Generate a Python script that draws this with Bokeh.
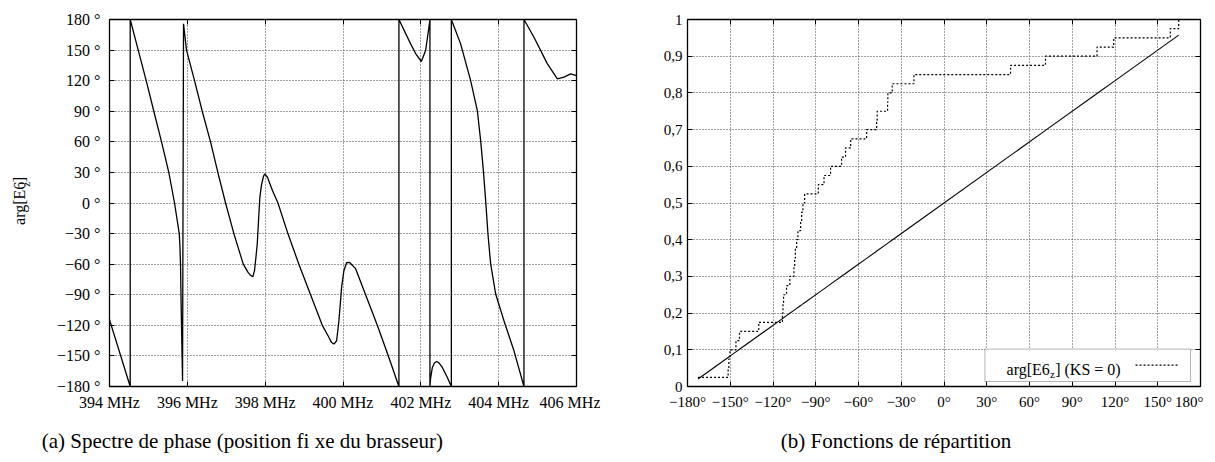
import numpy as np
from bokeh.plotting import figure
from bokeh.models import LinearAxis, FixedTicker, Label, BoxAnnotation, Range1d
from bokeh.layouts import row, column
from bokeh.embed import file_html
from bokeh.resources import INLINE

# ---------------- data: (a) phase spectrum ----------------
freq_mhz = [
    394.000, 394.532, 394.532,
    394.738, 394.943, 395.139, 395.337, 395.524, 395.671, 395.792, 395.807,
    395.825, 395.843, 395.870, 395.877, 395.902,
    395.979, 396.185, 396.383, 396.596, 396.784, 396.982, 397.196, 397.437,
    397.560, 397.625, 397.684, 397.728, 397.766, 397.797, 397.830, 397.864,
    397.907, 397.959, 397.992, 398.062, 398.190, 398.329, 398.584, 398.866,
    399.167, 399.468, 399.630, 399.700, 399.766, 399.836, 399.895, 399.964,
    400.023, 400.093, 400.170, 400.324, 400.581, 400.882, 401.165, 401.437,
    401.437,
    401.738, 401.866, 402.013, 402.123, 402.208, 402.234, 402.234,
    402.250, 402.296, 402.350, 402.406, 402.470, 402.553, 402.681, 402.784,
    402.784,
    403.023, 403.280, 403.452, 403.537, 403.607, 403.666, 403.725, 403.794,
    403.923, 404.136, 404.393, 404.650, 404.650,
    404.907, 405.252, 405.509, 405.679, 405.851, 406.000,
]
phase_deg = [
    -114.5, -180.0, 180.0,
    150.0, 120.0, 90.0, 60.0, 30.0, 0.0, -30.0, -40.0,
    -60.0, -105.0, -160.0, -174.5, 175.8,
    150.0, 120.0, 90.0, 60.0, 30.0, 0.0, -30.0, -60.0,
    -68.0, -71.0, -72.3, -66.0, -52.0, -40.0, -17.0, 5.6,
    18.0, 26.5, 28.5, 25.0, 12.0, 0.0, -30.0, -60.0,
    -90.0, -120.0, -131.2, -136.5, -138.4, -135.1, -115.5, -82.8,
    -66.4, -58.6, -58.3, -64.4, -90.0, -120.0, -150.0, -180.0,
    180.0,
    156.1, 146.6, 138.8, 149.6, 172.4, 180.0, -180.0,
    -172.0, -161.3, -157.0, -155.5, -157.0, -161.3, -171.2, -180.0,
    180.0,
    156.1, 120.1, 90.7, 61.2, 31.8, 2.3, -30.4, -59.8,
    -89.3, -115.5, -145.0, -180.0, 180.0,
    162.6, 136.5, 121.8, 123.4, 126.7, 125.0,
]
freq_ticks = [394, 396, 398, 400, 402, 404, 406]
freq_tick_labels = ["394 MHz", "396 MHz", "398 MHz", "400 MHz", "402 MHz", "404 MHz", "406 MHz"]
phase_ticks = [-180, -150, -120, -90, -60, -30, 0, 30, 60, 90, 120, 150, 180]
phase_tick_labels = ["\u2212180 \u00b0", "\u2212150 \u00b0", "\u2212120 \u00b0", "\u221290 \u00b0",
                     "\u221260 \u00b0", "\u221230 \u00b0", "0 \u00b0", "30 \u00b0", "60 \u00b0",
                     "90 \u00b0", "120 \u00b0", "150 \u00b0", "180 \u00b0"]
ylabel_main, ylabel_sub, ylabel_tail = "arg[E6", "z", "]"
caption_a = "(a)  Spectre de phase (position fi xe du brasseur)"

# ---------------- data: (b) distribution functions ----------------
ks_samples = [
    -172.6, -151.5, -151.0, -150.2, -146.0, -143.5, -130.0, -113.4, -113.0, -112.6,
    -110.5, -108.2, -105.3, -104.8, -104.3, -103.4, -102.5, -100.6, -99.9, -99.0,
    -97.8, -88.2, -84.2, -79.6, -71.9, -69.1, -65.5, -54.3, -47.3, -46.9,
    -39.6, -39.4, -36.3, -21.1, 46.7, 71.2, 107.4, 119.1, 158.8, 164.7,
]
cdf_ticks = [0, 0.1, 0.2, 0.3, 0.4, 0.5, 0.6, 0.7, 0.8, 0.9, 1]
cdf_tick_labels = ["0", "0,1", "0,2", "0,3", "0,4", "0,5", "0,6", "0,7", "0,8", "0,9", "1"]
angle_ticks = [-180, -150, -120, -90, -60, -30, 0, 30, 60, 90, 120, 150, 180]
angle_tick_labels = ["\u2212180\u00b0", "\u2212150\u00b0", "\u2212120\u00b0", "\u221290\u00b0",
                     "\u221260\u00b0", "\u221230\u00b0", "0\u00b0", "30\u00b0", "60\u00b0",
                     "90\u00b0", "120\u00b0", "150\u00b0", "180\u00b0"]
legend_main, legend_sub, legend_tail = "arg[E6", "z", "] (KS = 0)"
caption_b = "(b) Fonctions de r\u00e9partition"

FONT = "Liberation Serif"
TOP_H = 418      # plot row: screen y 0 .. 418
CAP_H = 40       # caption strip: screen y 418 .. 458


def style(p, xt, xl, yt, yl, fs, ystand, xstand):
    p.background_fill_color = "white"
    p.border_fill_color = "white"
    p.outline_line_color = "black"
    p.outline_line_width = 1.3
    for ax, ticks, labels, st in ((p.xaxis[0], xt, xl, xstand), (p.yaxis[0], yt, yl, ystand)):
        ax.ticker = FixedTicker(ticks=ticks)
        ax.major_label_overrides = {t: l for t, l in zip(ticks, labels)}
        ax.major_tick_in = 5
        ax.major_tick_out = 0
        ax.major_tick_line_color = "black"
        ax.minor_tick_line_color = None
        ax.axis_line_color = None
        ax.major_label_text_font = FONT
        ax.major_label_text_font_size = fs
        ax.major_label_text_color = "black"
        ax.major_label_standoff = st
    for loc, ticks in (("above", xt), ("right", yt)):
        ax = LinearAxis(ticker=FixedTicker(ticks=ticks), major_label_text_font_size="0px",
                        major_label_standoff=0, major_tick_in=5, major_tick_out=0,
                        minor_tick_line_color=None, axis_line_color=None,
                        major_tick_line_color="black")
        ax.major_label_overrides = {t: "" for t in ticks}
        p.add_layout(ax, loc)
    for g, ticks in ((p.xgrid[0], xt), (p.ygrid[0], yt)):
        g.ticker = FixedTicker(ticks=ticks)
        g.grid_line_color = "#444444"
        g.grid_line_dash = "1 2"
        g.grid_line_width = 1


def blank(width, height):
    """A bare canvas: data x = pixels from its left, data y = pixels from its bottom."""
    b = figure(width=width, height=height, x_range=Range1d(0, width), y_range=Range1d(0, height),
               output_backend="svg", toolbar_location=None, title=None,
               min_border_left=0, min_border_right=0, min_border_top=0, min_border_bottom=0)
    b.axis.visible = False
    b.grid.visible = False
    b.outline_line_color = None
    b.background_fill_color = "white"
    b.border_fill_color = "white"
    return b


# ---------------- y label strip (screen x 0..50, y 0..418) ----------------
pl = blank(50, TOP_H)
ang = np.pi / 2
y_start = 234.0
pl.add_layout(Label(x=18.5, y=TOP_H - y_start, text=ylabel_main, angle=ang, text_align="left",
                    text_baseline="middle", text_font=FONT, text_font_size="16px", text_color="black"))
pl.add_layout(Label(x=25.5, y=TOP_H - (y_start - 43.5), text=ylabel_sub, angle=ang, text_align="left",
                    text_baseline="middle", text_font=FONT, text_font_size="11px", text_color="black"))
pl.add_layout(Label(x=18.5, y=TOP_H - (y_start - 48.6), text=ylabel_tail, angle=ang, text_align="left",
                    text_baseline="middle", text_font=FONT, text_font_size="16px", text_color="black"))

# ---------------- figure (a) (screen x 50..600) ----------------
p1 = figure(width=550, height=TOP_H, x_range=Range1d(394, 406), y_range=Range1d(-180, 180),
            output_backend="svg", toolbar_location=None, title=None,
            min_border_left=59, min_border_right=24, min_border_top=19, min_border_bottom=32)
style(p1, freq_ticks, freq_tick_labels, phase_ticks, phase_tick_labels, "16px", 9, 7)
p1.line(freq_mhz, phase_deg, line_color="black", line_width=1.3)

# ---------------- figure (b) (screen x 600..1203) ----------------
L2, R2, T, B = 686.7, 1200.0, 19.0, 385.7
p2 = figure(width=603, height=TOP_H, x_range=Range1d(-180, 180), y_range=Range1d(0, 1),
            output_backend="svg", toolbar_location=None, title=None,
            min_border_left=87, min_border_right=3, min_border_top=19, min_border_bottom=32)
style(p2, angle_ticks, angle_tick_labels, cdf_ticks, cdf_tick_labels, "15px", 5, 7)

samples = np.sort(np.array(ks_samples))
levels = np.arange(1, len(samples) + 1) / len(samples)
uniform = (samples + 180.0) / 360.0
p2.line(samples, uniform, line_color="black", line_width=1.1)
p2.step(samples, levels, mode="after", line_color="black", line_width=1.2, line_dash="2 2")


def x2(px):
    return -180 + (px - L2) * 360.0 / (R2 - L2)


def y2(py):
    return (B - py) / (B - T)


p2.add_layout(BoxAnnotation(left=x2(984.3), right=x2(1190), bottom=y2(380.7), top=y2(348.3),
                            fill_color="white", fill_alpha=1, line_color="black", line_width=1))
p2.add_layout(Label(x=x2(1006), y=y2(369), text=legend_main, text_align="left", text_baseline="alphabetic",
                    text_font=FONT, text_font_size="16px", text_color="black"))
p2.add_layout(Label(x=x2(1049.5), y=y2(373.5), text=legend_sub, text_align="left", text_baseline="alphabetic",
                    text_font=FONT, text_font_size="11px", text_color="black"))
p2.add_layout(Label(x=x2(1054.6), y=y2(369), text=legend_tail, text_align="left", text_baseline="alphabetic",
                    text_font=FONT, text_font_size="16px", text_color="black"))
seg = p2.segment(x0=[x2(1135)], y0=[y2(364.3)], x1=[x2(1178.3)], y1=[y2(364.3)],
                 line_color="black", line_width=1.2, line_dash="2 2")
seg.level = "overlay"

# ---------------- caption strip (screen y 418..458) ----------------
pc = blank(1203, CAP_H)
cap_y = TOP_H + CAP_H - 440
pc.add_layout(Label(x=244.5, y=cap_y, text=caption_a, text_align="center", text_baseline="middle",
                    text_font=FONT, text_font_size="21px", text_color="black"))
pc.add_layout(Label(x=895.5, y=cap_y, text=caption_b, text_align="center", text_baseline="middle",
                    text_font=FONT, text_font_size="21px", text_color="black"))

layout = column(row(pl, p1, p2, spacing=0), pc, spacing=0)
open("out.html", "w").write(file_html(layout, INLINE))
